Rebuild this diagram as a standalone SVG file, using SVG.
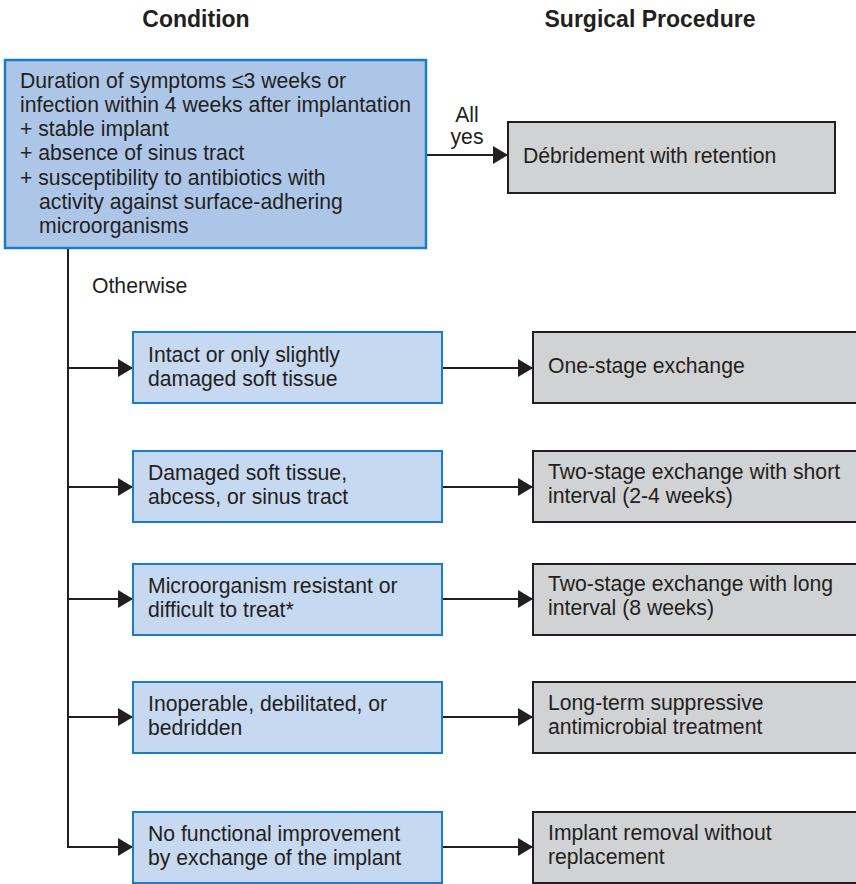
<svg xmlns="http://www.w3.org/2000/svg" width="856" height="884" viewBox="0 0 856 884">
<style>
text{font-family:"Liberation Sans",Arial,sans-serif;font-size:21.2px;fill:#231f20}
.h{font-weight:bold;font-size:23px;text-anchor:middle}
.main{fill:#adc6e8;stroke:#1a7dc9;stroke-width:2.5}
.cond{fill:#c6d9f1;stroke:#1a7dc9;stroke-width:2}
.proc{fill:#d1d2d4;stroke:#231f20;stroke-width:2}
.ln{fill:none;stroke:#231f20;stroke-width:2}
</style>
<defs>
<marker id="ah" markerWidth="16" markerHeight="18" refX="15" refY="9" orient="auto" markerUnits="userSpaceOnUse">
<path d="M0,0 L15,9 L0,18 Z" fill="#231f20"/>
</marker>
</defs>
<text class="h" x="196" y="27">Condition</text>
<text class="h" x="650" y="27">Surgical Procedure</text>

<g id="connectors">
<path class="ln" d="M426,155 H508" marker-end="url(#ah)"/>
<path class="ln" d="M68,248 V847 H133" marker-end="url(#ah)"/>
<path class="ln" d="M68,368 H133" marker-end="url(#ah)"/>
<path class="ln" d="M68,487 H133" marker-end="url(#ah)"/>
<path class="ln" d="M68,599 H133" marker-end="url(#ah)"/>
<path class="ln" d="M68,717 H133" marker-end="url(#ah)"/>
<path class="ln" d="M442,368 H533" marker-end="url(#ah)"/>
<path class="ln" d="M442,487 H533" marker-end="url(#ah)"/>
<path class="ln" d="M442,599 H533" marker-end="url(#ah)"/>
<path class="ln" d="M442,717 H533" marker-end="url(#ah)"/>
<path class="ln" d="M442,847 H533" marker-end="url(#ah)"/>
<text x="467" y="122" text-anchor="middle">All</text>
<text x="467" y="144" text-anchor="middle">yes</text>
<text x="92" y="293">Otherwise</text>
</g>

<g id="n-main">
<rect class="main" x="5" y="60" width="421" height="188"/>
<text x="20" y="88">Duration of symptoms ≤3 weeks or</text>
<text x="20" y="112">infection within 4 weeks after implantation</text>
<text x="20" y="136">+ stable implant</text>
<text x="20" y="160">+ absence of sinus tract</text>
<text x="20" y="185">+ susceptibility to antibiotics with</text>
<text x="39" y="209">activity against surface-adhering</text>
<text x="39" y="233">microorganisms</text>
</g>
<g id="n-debr">
<rect class="proc" x="508" y="122" width="327" height="71"/>
<text x="523" y="163">Débridement with retention</text>
</g>

<g id="n-c1">
<rect class="cond" x="133" y="332" width="309" height="71"/>
<text x="148" y="362">Intact or only slightly</text>
<text x="148" y="386">damaged soft tissue</text>
</g>
<g id="n-p1">
<rect class="proc" x="533" y="332" width="325" height="71"/>
<text x="548" y="373">One-stage exchange</text>
</g>

<g id="n-c2">
<rect class="cond" x="133" y="451" width="309" height="71"/>
<text x="148" y="480">Damaged soft tissue,</text>
<text x="148" y="504">abcess, or sinus tract</text>
</g>
<g id="n-p2">
<rect class="proc" x="533" y="451" width="325" height="71"/>
<text x="548" y="479">Two-stage exchange with short</text>
<text x="548" y="503">interval (2-4 weeks)</text>
</g>

<g id="n-c3">
<rect class="cond" x="133" y="564" width="309" height="71"/>
<text x="148" y="593">Microorganism resistant or</text>
<text x="148" y="617">difficult to treat*</text>
</g>
<g id="n-p3">
<rect class="proc" x="533" y="564" width="325" height="71"/>
<text x="548" y="591">Two-stage exchange with long</text>
<text x="548" y="615">interval (8 weeks)</text>
</g>

<g id="n-c4">
<rect class="cond" x="133" y="682" width="309" height="71"/>
<text x="148" y="711">Inoperable, debilitated, or</text>
<text x="148" y="735">bedridden</text>
</g>
<g id="n-p4">
<rect class="proc" x="533" y="682" width="325" height="71"/>
<text x="548" y="710">Long-term suppressive</text>
<text x="548" y="734">antimicrobial treatment</text>
</g>

<g id="n-c5">
<rect class="cond" x="133" y="812" width="309" height="71"/>
<text x="148" y="841">No functional improvement</text>
<text x="148" y="865">by exchange of the implant</text>
</g>
<g id="n-p5">
<rect class="proc" x="533" y="812" width="325" height="71"/>
<text x="548" y="840">Implant removal without</text>
<text x="548" y="864">replacement</text>
</g>
</svg>
